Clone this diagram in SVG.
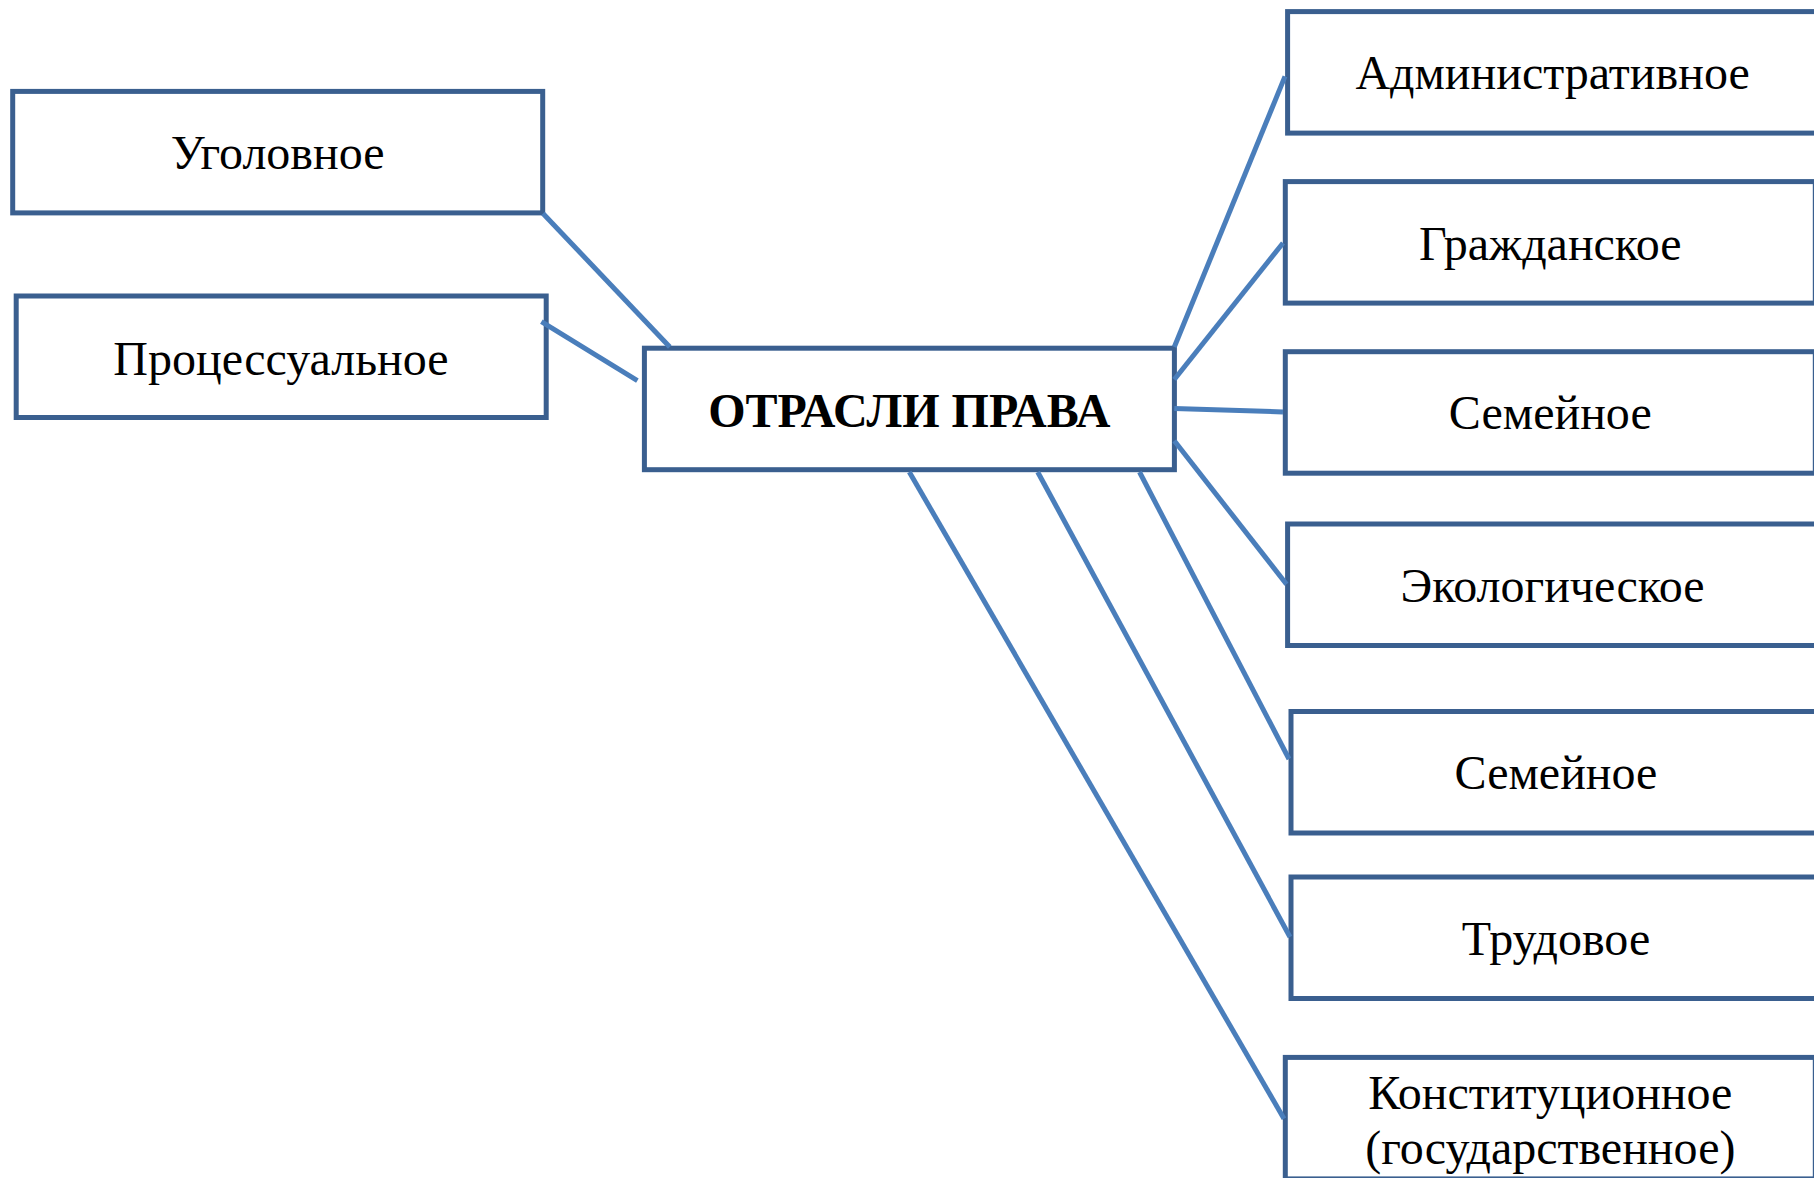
<svg xmlns="http://www.w3.org/2000/svg" width="1814" height="1178" viewBox="0 0 1814 1178">
<style>
.box{fill:#ffffff;stroke:#3A5F8F;stroke-width:5}
.lbl{font-family:"Liberation Serif","Times New Roman",serif;font-size:48px;fill:#000;text-anchor:middle}
.bold{font-weight:bold}
.con line{stroke:#4A7EBB;stroke-width:5;stroke-linecap:butt}
</style>
<rect width="1814" height="1178" fill="#ffffff"/>
<g id="n-ugolovnoe"><rect class="box" x="12.7" y="91.4" width="530" height="121.5"/><text class="lbl" x="277.7" y="169">Уголовное</text></g>
<g id="n-processualnoe"><rect class="box" x="16.2" y="296" width="530" height="121.5"/><text class="lbl" x="281" y="374.5">Процессуальное</text></g>
<g id="n-center"><rect class="box" x="644.4" y="348.2" width="530" height="121.5"/><text class="lbl bold" x="909.3" y="426.5">ОТРАСЛИ ПРАВА</text></g>
<g id="n-admin"><rect class="box" x="1287.6" y="11.6" width="530" height="121.5"/><text class="lbl" x="1552.6" y="89">Административное</text></g>
<g id="n-grazhd"><rect class="box" x="1285.3" y="181.6" width="530" height="121.5"/><text class="lbl" x="1550.3" y="260">Гражданское</text></g>
<g id="n-semeinoe1"><rect class="box" x="1285.3" y="351.7" width="530" height="121.5"/><text class="lbl" x="1550.3" y="429">Семейное</text></g>
<g id="n-ekolog"><rect class="box" x="1287.6" y="524" width="530" height="121.5"/><text class="lbl" x="1552.6" y="601.5">Экологическое</text></g>
<g id="n-semeinoe2"><rect class="box" x="1291" y="711.5" width="530" height="121.5"/><text class="lbl" x="1556" y="788.5">Семейное</text></g>
<g id="n-trudovoe"><rect class="box" x="1291" y="877" width="530" height="121.5"/><text class="lbl" x="1556" y="955">Трудовое</text></g>
<g id="n-konst"><rect class="box" x="1285.3" y="1057.4" width="530" height="121.5"/><text class="lbl" x="1550.3" y="1108.5">Конституционное</text><text class="lbl" x="1550.3" y="1164">(государственное)</text></g>
<g id="connectors" class="con">
<line x1="543" y1="213.5" x2="669.8" y2="347"/>
<line x1="541.4" y1="321.6" x2="637.4" y2="380.6"/>
<line x1="1174.3" y1="347" x2="1285" y2="76.4"/>
<line x1="1174.3" y1="379.5" x2="1283" y2="243"/>
<line x1="1174.3" y1="408.4" x2="1283" y2="411.9"/>
<line x1="1174.3" y1="440.8" x2="1286.5" y2="584.2"/>
<line x1="1139.5" y1="472" x2="1289" y2="759"/>
<line x1="1037.7" y1="472" x2="1290" y2="937"/>
<line x1="909.3" y1="472" x2="1284" y2="1118.7"/>
</g>
</svg>
